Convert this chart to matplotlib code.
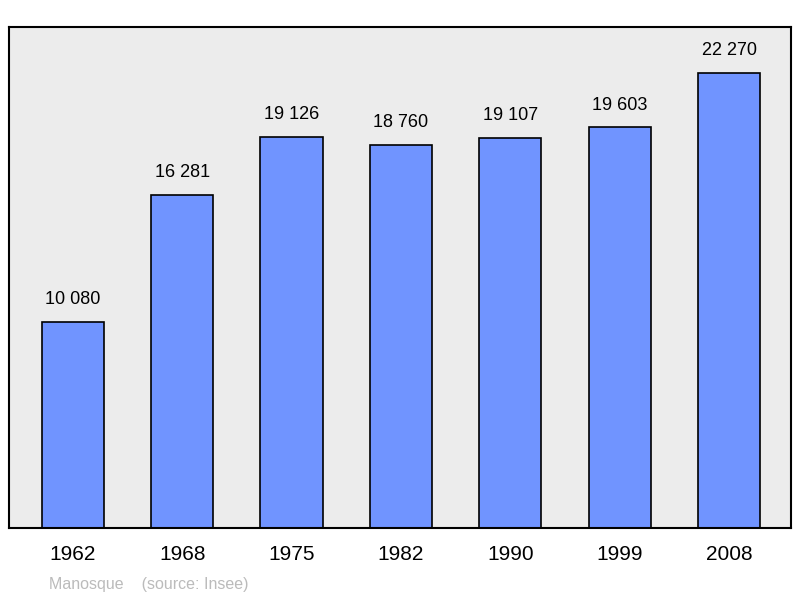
import matplotlib.pyplot as plt

years = ['1962', '1968', '1975', '1982', '1990', '1999', '2008']
population = [10080, 16281, 19126, 18760, 19107, 19603, 22270]
labels = ['10 080', '16 281', '19 126', '18 760', '19 107', '19 603', '22 270']

plt.rcParams['font.family'] = ['Liberation Sans', 'DejaVu Sans']

fig = plt.figure(figsize=(8, 5.98), dpi=100)
ax = fig.add_axes([9 / 800, 1 - 528 / 598, 782 / 800, 501 / 598])
ax.set_facecolor('#ececec')

x = range(len(years))
ax.bar(x, population, width=0.57, color='#7094ff', edgecolor='black', linewidth=1.2)
for i, (v, t) in enumerate(zip(population, labels)):
    ax.annotate(t, (i, v), xytext=(0, 10), textcoords='offset points',
                ha='center', va='bottom', fontsize=13)

ax.set_xlim(-0.585, 6.567)
ax.set_ylim(0, 24520)
ax.set_xticks(list(x))
ax.set_xticklabels(years, fontsize=15)
ax.tick_params(axis='x', length=0, pad=12)
ax.set_yticks([])
for s in ax.spines.values():
    s.set_linewidth(1.5)

fig.text(49 / 800, 1 - 584 / 598, 'Manosque    (source: Insee)', color='#bbbbbb',
         fontsize=11.5, va='center')

fig.savefig('out.png', dpi=100)
